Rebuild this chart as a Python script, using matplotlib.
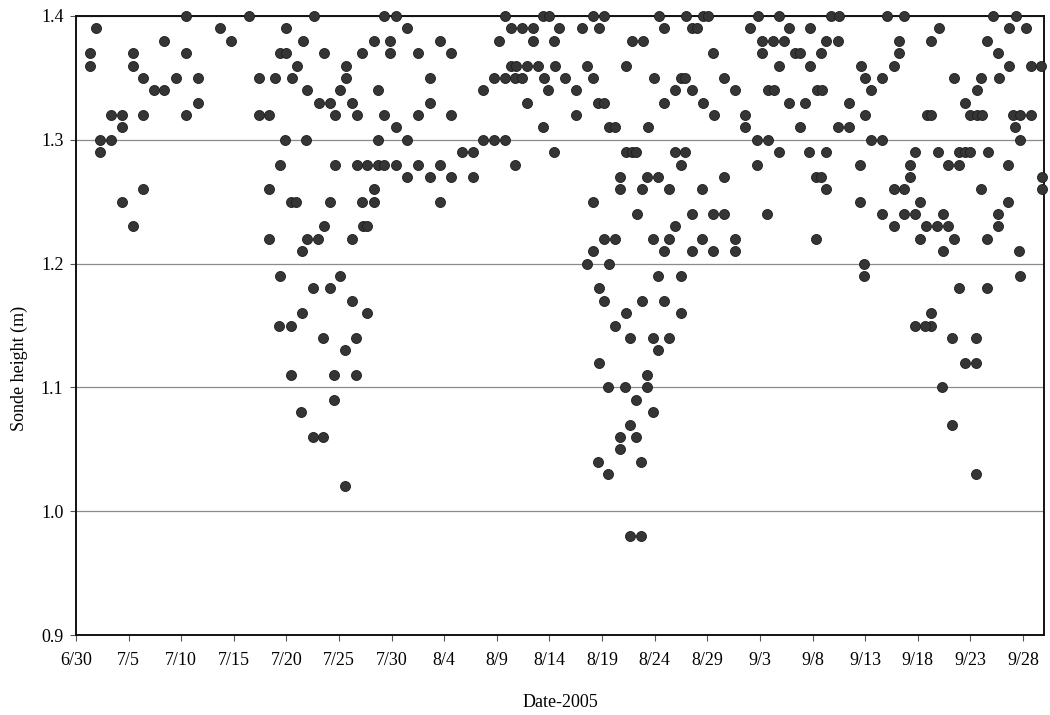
import pandas as pd
import matplotlib
matplotlib.use("Agg")
import matplotlib.pyplot as plt
import matplotlib.dates as mdates
from matplotlib.ticker import FuncFormatter

# days after 6/30/2005 and sonde height (m)
days_a = [1.3, 1.3, 1.9, 2.3, 2.3, 3.3, 3.3, 4.4, 4.4, 4.4, 5.4, 5.4, 5.4, 6.4, 6.4, 6.4, 7.4, 8.4, 8.4, 9.5,
          10.5, 10.5, 10.5, 11.6, 11.6,
          13.7, 14.7, 16.4, 17.4, 17.4, 18.3, 18.3, 18.3, 18.9, 19.4, 19.4, 19.3, 19.4, 20.0, 20.0, 19.9,
          20.4, 20.9, 20.4, 20.4, 20.5, 21.0, 21.6, 21.5, 21.5, 21.4, 22.0, 21.9, 22.0, 22.5, 22.5, 22.6,
          23.1, 23.0, 23.6, 23.6, 23.5, 23.5, 24.1, 24.1, 24.1, 24.6, 24.6, 24.5, 24.5, 25.1, 25.1, 25.6,
          25.6, 25.7, 25.7, 26.2, 26.2, 26.2, 26.7, 26.7, 26.6, 26.6, 27.2, 27.2, 27.3, 27.7, 27.7, 27.7,
          28.3, 28.3, 28.3, 28.7, 28.7, 28.7]
height_a = [1.37, 1.36, 1.39, 1.30, 1.29, 1.32, 1.30, 1.32, 1.31, 1.25, 1.37, 1.36, 1.23, 1.35, 1.32, 1.26,
            1.34, 1.38, 1.34, 1.35, 1.40, 1.37, 1.32, 1.35, 1.33,
            1.39, 1.38, 1.40, 1.35, 1.32, 1.32, 1.26, 1.22, 1.35, 1.28, 1.19, 1.15, 1.37, 1.37, 1.39, 1.30,
            1.25, 1.25, 1.15, 1.11, 1.35, 1.36, 1.38, 1.21, 1.16, 1.08, 1.34, 1.30, 1.22, 1.18, 1.06, 1.40,
            1.33, 1.22, 1.37, 1.23, 1.14, 1.06, 1.33, 1.25, 1.18, 1.32, 1.28, 1.11, 1.09, 1.19, 1.34, 1.13,
            1.02, 1.36, 1.35, 1.33, 1.22, 1.17, 1.32, 1.28, 1.14, 1.11, 1.37, 1.25, 1.23, 1.28, 1.23, 1.16,
            1.38, 1.26, 1.25, 1.34, 1.30, 1.28]

days_b = [29.3, 30.4, 31.5, 29.8, 29.8, 32.5, 34.6, 35.6, 33.6, 33.6, 29.3, 32.5, 35.6, 30.4, 31.5, 36.7,
          37.7, 38.7, 39.7, 40.8, 29.3, 30.4, 32.5, 34.6, 31.5, 33.6, 35.6, 37.7, 34.6, 38.7, 39.7, 40.8,
          40.2, 40.8, 41.3, 42.4, 43.4, 43.4, 45.4, 41.3, 41.8, 42.9, 43.9, 45.5, 41.7, 42.4, 44.5, 44.9,
          42.9, 44.4, 45.4, 41.7, 44.4, 45.0]
height_b = [1.40, 1.40, 1.39, 1.38, 1.37, 1.37, 1.38, 1.37, 1.35, 1.33, 1.32, 1.32, 1.32, 1.31, 1.30, 1.29,
            1.29, 1.30, 1.30, 1.30, 1.28, 1.28, 1.28, 1.28, 1.27, 1.27, 1.27, 1.27, 1.25, 1.34, 1.35, 1.35,
            1.38, 1.40, 1.39, 1.39, 1.39, 1.38, 1.38, 1.36, 1.36, 1.36, 1.36, 1.36, 1.35, 1.35, 1.35, 1.34,
            1.33, 1.31, 1.29, 1.28, 1.40, 1.40]

days_c = [49.1, 50.2, 55.4, 58.0, 59.6, 60.1, 45.9, 48.1, 49.7, 55.9, 58.5, 59.0, 52.8, 53.9, 60.5, 48.6,
          52.3, 46.5, 49.1, 54.9, 57.5, 57.9, 61.6, 47.5, 56.9, 58.5, 62.6, 49.6, 50.2, 55.9, 59.6, 47.5,
          60.6, 50.7, 51.2, 54.4, 52.3, 52.8, 53.2, 56.9, 57.9, 57.5, 51.7, 54.3, 55.3, 61.6, 51.7, 53.8,
          56.4, 59.5, 49.1, 53.3, 58.5, 60.5, 61.6, 56.9, 50.2, 51.2, 54.8, 56.4, 59.5, 62.6, 49.1, 55.9,
          58.5, 60.5, 62.6, 48.6, 50.7, 55.3, 57.5, 49.7, 50.2, 53.8, 55.9, 52.3, 57.5, 51.2,
          52.7, 54.8, 56.4, 55.3, 49.7, 54.3, 50.6, 52.2, 54.3, 53.2, 54.8, 52.7, 51.7, 53.2, 51.7, 49.6,
          53.7, 50.6, 52.7, 53.7]
height_c = [1.40, 1.40, 1.40, 1.40, 1.40, 1.40, 1.39, 1.39, 1.39, 1.39, 1.39, 1.39, 1.38, 1.38, 1.37, 1.36,
            1.36, 1.35, 1.35, 1.35, 1.35, 1.35, 1.35, 1.34, 1.34, 1.34, 1.34, 1.33, 1.33, 1.33, 1.33, 1.32,
            1.32, 1.31, 1.31, 1.31, 1.29, 1.29, 1.29, 1.29, 1.29, 1.28, 1.27, 1.27, 1.27, 1.27, 1.26, 1.26,
            1.26, 1.26, 1.25, 1.24, 1.24, 1.24, 1.24, 1.23, 1.22, 1.22, 1.22, 1.22, 1.22, 1.22, 1.21, 1.21,
            1.21, 1.21, 1.21, 1.20, 1.20, 1.19, 1.19, 1.18, 1.17, 1.17, 1.17, 1.16, 1.16, 1.15,
            1.14, 1.14, 1.14, 1.13, 1.12, 1.11, 1.10, 1.10, 1.10, 1.09, 1.08, 1.07, 1.06, 1.06, 1.05, 1.04,
            1.04, 1.03, 0.98, 0.98]

days_d = [64.8, 66.8, 71.8, 72.5, 77.1, 78.7, 64.1, 67.8, 69.8, 65.2, 66.2, 67.3, 71.3, 72.4, 78.2, 65.2,
          68.3, 68.8, 70.8, 78.2, 66.8, 69.8, 74.6, 77.7, 75.0, 76.6, 65.8, 66.3, 70.4, 70.9, 75.6, 67.8,
          69.3, 73.5, 63.6, 75.0, 63.6, 68.8, 72.4, 73.5, 64.7, 65.8, 75.6, 76.6, 66.8, 69.7, 71.3, 79.7,
          64.7, 74.5, 79.3, 70.3, 70.8, 79.3, 71.3, 77.7, 78.7, 74.5, 80.2, 65.7, 76.6, 78.7, 79.7, 77.7,
          70.3, 80.2, 74.9, 74.9, 79.7]
height_d = [1.40, 1.40, 1.40, 1.40, 1.40, 1.40, 1.39, 1.39, 1.39, 1.38, 1.38, 1.38, 1.38, 1.38, 1.38, 1.37,
            1.37, 1.37, 1.37, 1.37, 1.36, 1.36, 1.36, 1.36, 1.35, 1.35, 1.34, 1.34, 1.34, 1.34, 1.34, 1.33,
            1.33, 1.33, 1.32, 1.32, 1.31, 1.31, 1.31, 1.31, 1.30, 1.30, 1.30, 1.30, 1.29, 1.29, 1.29, 1.29,
            1.28, 1.28, 1.28, 1.27, 1.27, 1.27, 1.26, 1.26, 1.26, 1.25, 1.25, 1.24, 1.24, 1.24, 1.24, 1.23,
            1.22, 1.22, 1.20, 1.19, 1.15]

days_e = [87.2, 89.3, 82.0, 88.7, 90.3, 81.3, 86.6, 87.6, 88.7, 90.8, 91.7, 83.4, 86.0, 87.7, 85.6, 84.5,
          80.9, 81.3, 85.0, 85.6, 86.1, 89.1, 89.7, 90.8, 89.2, 89.7, 81.9, 83.9, 84.5, 85.0, 86.7, 82.9,
          83.9, 88.6, 91.8, 86.0, 91.8, 88.6, 82.4, 87.6, 80.8, 81.8, 82.9, 87.6, 83.4, 86.6, 82.4, 89.6,
          89.7, 83.9, 86.6, 81.3, 81.3, 80.7, 83.3, 85.5, 84.5, 85.5, 82.3, 83.3, 85.5]
height_e = [1.40, 1.40, 1.39, 1.39, 1.39, 1.38, 1.38, 1.37, 1.36, 1.36, 1.36, 1.35, 1.35, 1.35, 1.34, 1.33,
            1.32, 1.32, 1.32, 1.32, 1.32, 1.32, 1.32, 1.32, 1.31, 1.30, 1.29, 1.29, 1.29, 1.29, 1.29, 1.28,
            1.28, 1.28, 1.27, 1.26, 1.26, 1.25, 1.24, 1.24, 1.23, 1.23, 1.23, 1.23, 1.22, 1.22, 1.21, 1.21,
            1.19, 1.18, 1.18, 1.16, 1.15, 1.15, 1.14, 1.14, 1.12, 1.12, 1.10, 1.07, 1.03]

y_ticks = [0.9, 1.0, 1.1, 1.2, 1.3, 1.4]

start = pd.Timestamp("2005-06-30")
days = days_a + days_b + days_c + days_d + days_e
heights = height_a + height_b + height_c + height_d + height_e
dates = start + pd.to_timedelta(days, unit="D")

plt.rcParams["font.family"] = ["Liberation Serif", "DejaVu Serif"]

fig = plt.figure(figsize=(10.5, 7.15), dpi=100)
ax = fig.add_axes([76 / 1050, 1 - 635 / 715, 968 / 1050, 619 / 715])

ax.scatter(dates, heights, s=52, color="#353535", edgecolors="#1e1e1e", linewidths=0.6,
           zorder=5, clip_on=False)

ax.set_ylim(0.9, 1.4)
ax.set_yticks(y_ticks)
ax.yaxis.set_major_formatter(FuncFormatter(lambda v, p: f"{v:.1f}"))
ax.grid(axis="y", color="#8a8a8a", linewidth=0.9)
ax.set_axisbelow(True)

ax.set_xlim(start, start + pd.Timedelta(days=92))
ax.set_xticks(pd.date_range(start, periods=19, freq="5D"))
ax.xaxis.set_major_formatter(FuncFormatter(
    lambda v, p: f"{mdates.num2date(v).month}/{mdates.num2date(v).day}"))

for sp in ax.spines.values():
    sp.set_linewidth(1.4)
    sp.set_color("#111111")
    sp.set_zorder(4)

ax.tick_params(axis="both", labelsize=13, direction="out", length=4, width=0.8, color="#555555")
ax.tick_params(axis="x", pad=8)
ax.tick_params(axis="y", pad=5)

ax.set_xlabel("Date-2005", fontsize=13, labelpad=18)
ax.set_ylabel("Sonde height (m)", fontsize=13)
ax.yaxis.set_label_coords(-0.05, 0.43)

plt.savefig("out.png", dpi=100)
